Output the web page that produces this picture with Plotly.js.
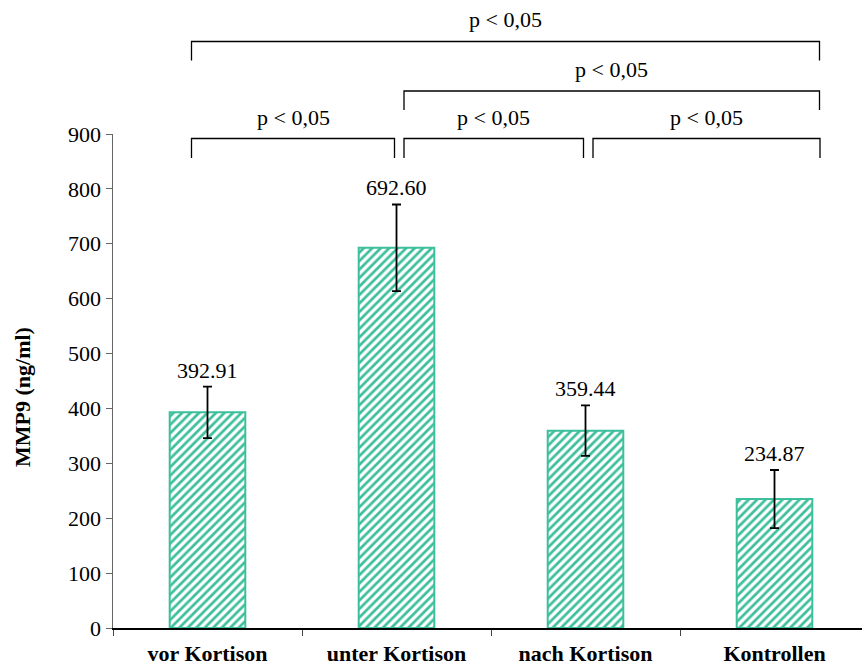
<!DOCTYPE html>
<html>
<head>
<meta charset="utf-8">
<script src="https://cdn.plot.ly/plotly-3.0.1.min.js"></script>
<style>html,body{margin:0;padding:0;background:#fff;}#chart{width:862px;height:666px;}</style>
</head>
<body>
<div id="chart"></div>
<script>
const categories = ["vor Kortison", "unter Kortison", "nach Kortison", "Kontrollen"];
const means = [392.91, 692.60, 359.44, 234.87];
const errors = [47, 79, 46, 53];
const valueLabels = ["392.91", "692.60", "359.44", "234.87"];
const yTicks = [0, 100, 200, 300, 400, 500, 600, 700, 800, 900];
const yTitle = "MMP9 (ng/ml)";
// significance brackets: [fromCategoryIndex, toCategoryIndex, row(0=lowest)]
const brackets = [[0, 1, 0], [1, 2, 0], [2, 3, 0], [1, 3, 1], [0, 3, 2]];
const pLabel = "p < 0,05";

const teal = "#3dbf9c";
const serif = "Liberation Serif, Times New Roman, serif";
const FS = 22;

// geometry helpers (pixel layout of plot area)
const L = 113, R = 862, T = 134, B = 628;
const catW = 189;
const px2xp = px => (px - L) / (R - L);
const py2yp = py => (B - py) / (B - T);
const catCenterPx = i => L + catW * (i + 0.5);

const shapes = [];
const annotations = [];
const rowY = [138.5, 91, 41.5];
const drop = [19.5, 19, 19];
const labY = [118, 69, 20];
brackets.forEach(([a, b, row]) => {
  let x0 = catCenterPx(a) - 16, x1 = catCenterPx(b) + 45;
  if (row === 0) {
    x0 = (a === 0) ? catCenterPx(a) - 16 : catCenterPx(a) + 7.5;
    x1 = (b === 3) ? catCenterPx(b) + 45.5 : catCenterPx(b) - 2;
  }
  if (row === 1) { x0 = catCenterPx(a) + 7.5; }
  const yTop = rowY[row], yBot = rowY[row] + drop[row];
  shapes.push({type: "path", xref: "paper", yref: "paper",
    path: `M ${px2xp(x0)},${py2yp(yBot)} L ${px2xp(x0)},${py2yp(yTop)} L ${px2xp(x1)},${py2yp(yTop)} L ${px2xp(x1)},${py2yp(yBot)}`,
    line: {color: "#000", width: 1.3}});
  annotations.push({xref: "paper", yref: "paper", x: px2xp((x0 + x1) / 2), y: py2yp(labY[row]),
    text: pLabel, showarrow: false, xanchor: "center", yanchor: "middle",
    font: {family: serif, size: FS, color: "#000"}});
});

categories.forEach((c, i) => {
  annotations.push({xref: "x", yref: "y", x: c, y: means[i] + errors[i], text: valueLabels[i],
    showarrow: false, xanchor: "center", yanchor: "bottom", yshift: 2,
    font: {family: serif, size: FS, color: "#000"}});
});

// y-axis title as rotated annotation
annotations.push({xref: "paper", yref: "paper", x: px2xp(22), y: py2yp(397), text: "<b>" + yTitle + "</b>",
  textangle: -90, showarrow: false, xanchor: "center", yanchor: "middle",
  font: {family: serif, size: FS, color: "#000"}});

const trace = {
  type: "bar", x: categories, y: means, width: 0.4,
  marker: {color: "#fff", line: {color: teal, width: 2},
    pattern: {shape: "/", fgcolor: teal, bgcolor: "#fff", size: 6, solidity: 0.45}},
  error_y: {type: "data", array: errors, visible: true, color: "#000", thickness: 1.8, width: 4.5},
  hoverinfo: "none"
};

const layout = {
  width: 862, height: 666,
  margin: {l: L, r: 0, t: T, b: 666 - B},
  paper_bgcolor: "#fff", plot_bgcolor: "#fff",
  showlegend: false,
  font: {family: serif, size: FS, color: "#000"},
  xaxis: {type: "category", range: [-0.5, 3.5 - (869 - R) / catW], showgrid: false,
    showline: true, linecolor: "#000", linewidth: 1.5, ticks: "outside", tickson: "boundaries",
    ticklen: 6, tickcolor: "#444", tickwidth: 1, ticklabelstandoff: 5,
    tickfont: {family: serif, size: FS, color: "#000", weight: "bold"}, fixedrange: true},
  yaxis: {range: [0, 900], tickvals: yTicks, showgrid: false, zeroline: false,
    showline: true, linecolor: "#666", linewidth: 1.5, ticks: "outside", ticklen: 6, tickcolor: "#666",
    tickfont: {family: serif, size: FS, color: "#000"}, fixedrange: true},
  shapes: shapes,
  annotations: annotations
};

Plotly.newPlot("chart", [trace], layout, {displayModeBar: false, staticPlot: true});
</script>
</body>
</html>
